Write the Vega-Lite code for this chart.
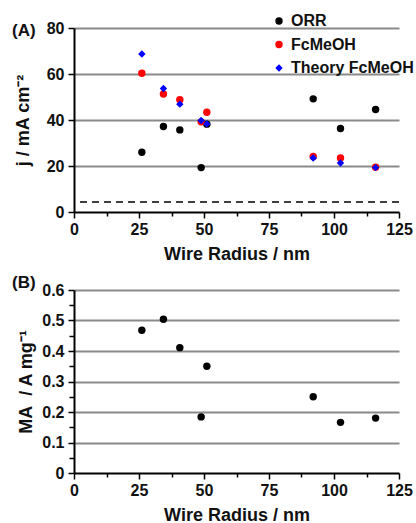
{
  "$schema": "https://vega.github.io/schema/vega-lite/v6.json",
  "padding": {"left": 12, "top": 13, "right": 0, "bottom": 0},
  "config": {
    "font": "Liberation Sans",
    "view": {"stroke": null},
    "concat": {"spacing": 11},
    "axis": {
      "labelFont": "Liberation Sans", "labelFontSize": 16, "labelFontWeight": "bold", "labelColor": "#111",
      "titleFont": "Liberation Sans", "titleFontSize": 18, "titleFontWeight": "bold", "titleColor": "#111",
      "domainColor": "#000", "domainWidth": 2, "tickColor": "#000", "tickWidth": 1.5,
      "gridColor": "#8a8a8a", "gridWidth": 2, "labelOverlap": false, "labelFlush": false
    },
    "title": {"font": "Liberation Sans", "fontSize": 17, "fontWeight": "bold", "color": "#111"}
  },
  "datasets": {
    "jdata": [
      {"radius": 26.1, "series": "ORR", "j": 26.0},
      {"radius": 34.4, "series": "ORR", "j": 37.2},
      {"radius": 40.7, "series": "ORR", "j": 35.7},
      {"radius": 48.9, "series": "ORR", "j": 19.3},
      {"radius": 51.1, "series": "ORR", "j": 38.2},
      {"radius": 92.0, "series": "ORR", "j": 49.2},
      {"radius": 102.5, "series": "ORR", "j": 36.3},
      {"radius": 116.0, "series": "ORR", "j": 44.6},
      {"radius": 26.1, "series": "FcMeOH", "j": 60.3},
      {"radius": 34.4, "series": "FcMeOH", "j": 51.3},
      {"radius": 40.7, "series": "FcMeOH", "j": 48.8},
      {"radius": 48.9, "series": "FcMeOH", "j": 39.2},
      {"radius": 51.1, "series": "FcMeOH", "j": 43.4},
      {"radius": 92.0, "series": "FcMeOH", "j": 24.1},
      {"radius": 102.5, "series": "FcMeOH", "j": 23.5},
      {"radius": 116.0, "series": "FcMeOH", "j": 19.5},
      {"radius": 26.1, "series": "Theory FcMeOH", "j": 68.7},
      {"radius": 34.4, "series": "Theory FcMeOH", "j": 53.7},
      {"radius": 40.7, "series": "Theory FcMeOH", "j": 46.9},
      {"radius": 48.9, "series": "Theory FcMeOH", "j": 39.8},
      {"radius": 51.1, "series": "Theory FcMeOH", "j": 38.3},
      {"radius": 92.0, "series": "Theory FcMeOH", "j": 23.5},
      {"radius": 102.5, "series": "Theory FcMeOH", "j": 21.3},
      {"radius": 116.0, "series": "Theory FcMeOH", "j": 19.3}
    ],
    "baseline": [{"j": 4.4}],
    "madata": [
      {"radius": 26.1, "ma": 0.468},
      {"radius": 34.4, "ma": 0.504},
      {"radius": 40.7, "ma": 0.411},
      {"radius": 48.9, "ma": 0.184},
      {"radius": 51.1, "ma": 0.350},
      {"radius": 92.0, "ma": 0.250},
      {"radius": 102.5, "ma": 0.166},
      {"radius": 116.0, "ma": 0.180}
    ]
  },
  "vconcat": [
    {
      "width": 325,
      "height": 184,
      "title": {"text": "(A)", "anchor": "start", "frame": "group", "offset": 0, "dx": -62, "dy": 20},
      "layer": [
        {
          "data": {"name": "jdata"},
          "mark": {"type": "point", "filled": true, "opacity": 1},
          "encoding": {
            "x": {
              "field": "radius", "type": "quantitative",
              "scale": {"domain": [0, 125], "nice": false},
              "axis": {
                "title": "Wire Radius / nm",
                "values": [0, 12.5, 25, 37.5, 50, 62.5, 75, 87.5, 100, 112.5, 125],
                "labelExpr": "datum.value % 25 === 0 ? datum.label : ''",
                "tickSize": {"condition": {"test": "datum.value % 25 === 0", "value": 6}, "value": 4},
                "grid": false, "labelPadding": 3, "titlePadding": 8
              }
            },
            "y": {
              "field": "j", "type": "quantitative",
              "scale": {"domain": [0, 80], "nice": false},
              "axis": {
                "title": "j / mA cm⁻²",
                "values": [0, 10, 20, 30, 40, 50, 60, 70, 80],
                "labelExpr": "datum.value % 20 === 0 ? datum.label : ''",
                "tickSize": {"condition": {"test": "datum.value % 20 === 0", "value": 6}, "value": 5},
                "grid": true,
                "gridOpacity": {"condition": {"test": "datum.value % 20 === 0 && datum.value > 0", "value": 1}, "value": 0},
                "labelPadding": 4, "titlePadding": 14
              }
            },
            "color": {
              "field": "series", "type": "nominal",
              "scale": {"domain": ["ORR", "FcMeOH", "Theory FcMeOH"], "range": ["#000000", "#ff0000", "#0000ff"]},
              "legend": {
                "title": null, "orient": "none", "legendX": 197, "legendY": -15,
                "labelFont": "Liberation Sans", "labelFontSize": 16, "labelFontWeight": "bold", "labelColor": "#111",
                "rowPadding": 7.5, "padding": 0, "labelOffset": 4
              }
            },
            "shape": {
              "field": "series", "type": "nominal",
              "scale": {"domain": ["ORR", "FcMeOH", "Theory FcMeOH"], "range": ["circle", "circle", "diamond"]}
            },
            "size": {
              "field": "series", "type": "nominal",
              "scale": {"domain": ["ORR", "FcMeOH", "Theory FcMeOH"], "range": [55, 55, 36]}
            }
          }
        },
        {
          "data": {"name": "baseline"},
          "mark": {"type": "rule", "strokeDash": [7, 5], "strokeWidth": 1.5, "color": "#000"},
          "encoding": {"y": {"field": "j", "type": "quantitative"}}
        }
      ]
    },
    {
      "width": 325,
      "height": 183,
      "title": {"text": "(B)", "anchor": "start", "frame": "group", "offset": 0, "dx": -62, "dy": 10},
      "data": {"name": "madata"},
      "mark": {"type": "circle", "opacity": 1, "color": "#000", "size": 55},
      "encoding": {
        "x": {
          "field": "radius", "type": "quantitative",
          "scale": {"domain": [0, 125], "nice": false},
          "axis": {
            "title": "Wire Radius / nm",
            "values": [0, 12.5, 25, 37.5, 50, 62.5, 75, 87.5, 100, 112.5, 125],
            "labelExpr": "datum.value % 25 === 0 ? datum.label : ''",
            "tickSize": {"condition": {"test": "datum.value % 25 === 0", "value": 6}, "value": 4},
            "grid": false, "labelPadding": 3, "titlePadding": 8
          }
        },
        "y": {
          "field": "ma", "type": "quantitative",
          "scale": {"domain": [0, 0.6], "nice": false},
          "axis": {
            "title": "MA\u00a0\u00a0/ A mg⁻¹",
            "values": [0, 0.05, 0.1, 0.15, 0.2, 0.25, 0.3, 0.35, 0.4, 0.45, 0.5, 0.55, 0.6],
            "format": ".1~f",
            "labelExpr": "round(datum.value * 100) % 10 === 0 ? datum.label : ''",
            "tickSize": {"condition": {"test": "round(datum.value * 100) % 10 === 0", "value": 6}, "value": 5},
            "grid": true,
            "gridOpacity": {"condition": {"test": "round(datum.value * 100) % 10 === 0 && datum.value > 0", "value": 1}, "value": 0},
            "labelPadding": 4, "titlePadding": 6
          }
        }
      }
    }
  ]
}
